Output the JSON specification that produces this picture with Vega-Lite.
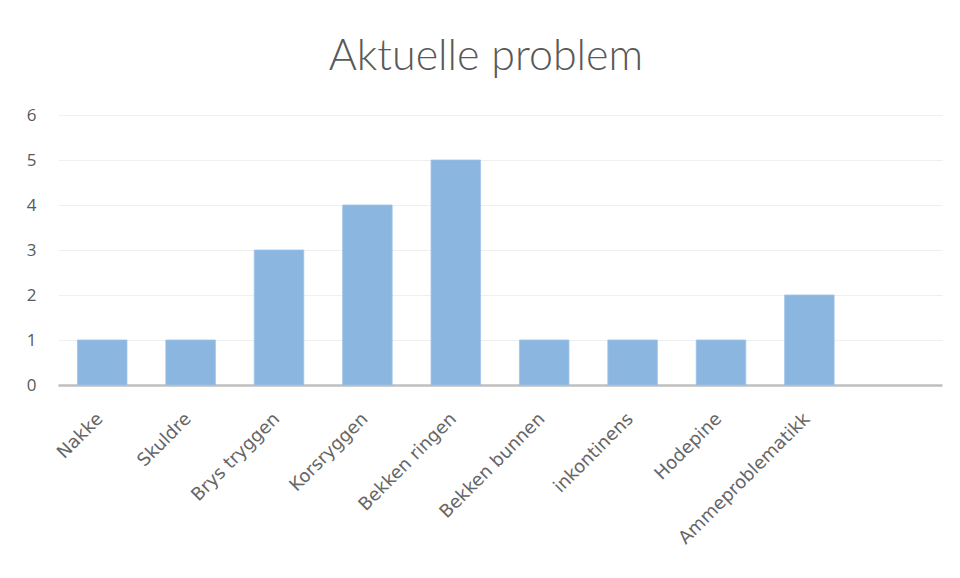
{
  "$schema": "https://vega.github.io/schema/vega-lite/v6.json",
  "autosize": "none",
  "width": 884,
  "height": 270,
  "padding": {"left": 58, "top": 115, "right": 18, "bottom": 193},
  "background": "white",
  "title": {
    "text": "Aktuelle problem",
    "font": "Lato",
    "fontWeight": 300,
    "fontSize": 43,
    "color": "#595959",
    "anchor": "middle",
    "frame": "group",
    "dx": -14,
    "offset": 27
  },
  "data": {
    "values": [
      {"problem": "Nakke", "antall": 1},
      {"problem": "Skuldre", "antall": 1},
      {"problem": "Brys tryggen", "antall": 3},
      {"problem": "Korsryggen", "antall": 4},
      {"problem": "Bekken ringen", "antall": 5},
      {"problem": "Bekken bunnen", "antall": 1},
      {"problem": "inkontinens", "antall": 1},
      {"problem": "Hodepine", "antall": 1},
      {"problem": "Ammeproblematikk", "antall": 2},
      {"problem": "", "antall": null}
    ]
  },
  "mark": {"type": "bar", "color": "#8ab6e0", "stroke": "#9cc3e8", "strokeWidth": 0.8},
  "encoding": {
    "x": {
      "field": "problem",
      "type": "nominal",
      "sort": null,
      "title": null,
      "scale": {
        "domain": ["Nakke", "Skuldre", "Brys tryggen", "Korsryggen", "Bekken ringen", "Bekken bunnen", "inkontinens", "Hodepine", "Ammeproblematikk", ""],
        "paddingInner": 0.44,
        "paddingOuter": 0.22
      },
      "axis": {
        "labelAngle": -45,
        "labelAlign": "right",
        "labelBaseline": "middle",
        "labelFont": "DejaVu Sans",
        "labelFontSize": 18,
        "labelColor": "#666666",
        "labelPadding": 31,
        "labelOffset": -2,
        "labelLimit": 400,
        "ticks": false,
        "domainColor": "#bfbfbf",
        "domainWidth": 2.5,
        "grid": false
      }
    },
    "y": {
      "field": "antall",
      "type": "quantitative",
      "title": null,
      "scale": {"domain": [0, 6]},
      "axis": {
        "values": [0, 1, 2, 3, 4, 5, 6],
        "labelFont": "Open Sans",
        "labelFontSize": 17,
        "labelColor": "#595959",
        "labelPadding": 22,
        "ticks": false,
        "domain": false,
        "gridColor": "#efefef",
        "gridWidth": 1.2
      }
    }
  },
  "config": {"view": {"stroke": null}}
}
